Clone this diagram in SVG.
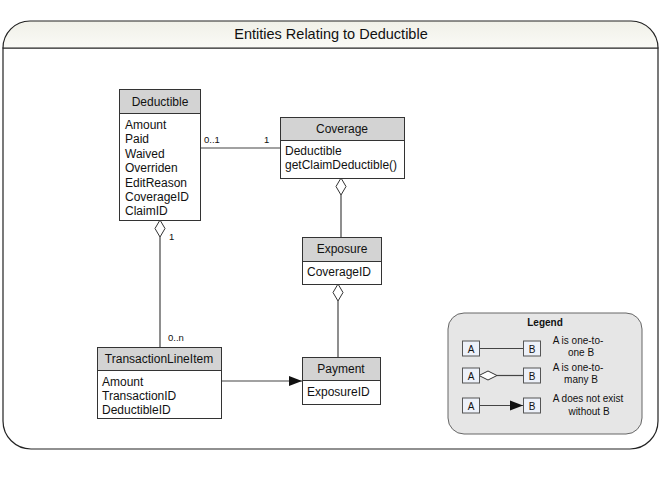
<svg xmlns="http://www.w3.org/2000/svg" width="662" height="504" viewBox="0 0 662 504">
<style>
text{font-family:"Liberation Sans",Arial,sans-serif;fill:#111}
.t{font-size:12px}
.h{font-size:12px;text-anchor:middle}
.m{font-size:9.5px}
.box{fill:#fff;stroke:#333;stroke-width:1}
.hd{fill:#d3d3d3;stroke:#333;stroke-width:1}
.ln{stroke:#444;stroke-width:1.2;fill:none}
.dia{fill:#fff;stroke:#333;stroke-width:1}
.lg{font-size:10px;text-anchor:middle}
.lb{fill:#edf1f9;stroke:#555;stroke-width:1}
</style>
<defs>
<linearGradient id="tg" x1="0" y1="0" x2="0" y2="1">
<stop offset="0" stop-color="#f0f0e8"/>
<stop offset="1" stop-color="#fafaf6"/>
</linearGradient>
<marker id="arr" markerWidth="14" markerHeight="12" refX="13" refY="6" orient="auto" markerUnits="userSpaceOnUse">
<path d="M0,1 L13,6 L0,11 Z" fill="#111"/>
</marker>
</defs>
<rect width="662" height="504" fill="#fff"/>
<g id="frame">
<path d="M3,48 V421 A28,28 0 0 0 31,449 H630 A28,28 0 0 0 658,421 V48 Z" fill="#fff" stroke="#222" stroke-width="1.2"/>
<path d="M3,48 A27,27 0 0 1 30,21 H631 A27,27 0 0 1 658,48 Z" fill="url(#tg)" stroke="#222" stroke-width="1.2"/>
<text x="331" y="39" style="font-size:14.5px;text-anchor:middle">Entities Relating to Deductible</text>
</g>
<g id="connectors">
<line class="ln" x1="200" y1="148" x2="280" y2="148"/>
<text class="m" x="204" y="143">0..1</text>
<text class="m" x="264" y="143">1</text>
<line class="ln" x1="160" y1="237" x2="160" y2="347"/>
<path class="dia" d="M160,220 L165,228.5 L160,237 L155,228.5 Z"/>
<text class="m" x="169" y="240">1</text>
<text class="m" x="168" y="341">0..n</text>
<line class="ln" x1="341" y1="195" x2="341" y2="237"/>
<path class="dia" d="M341,178 L346,186.5 L341,195 L336,186.5 Z"/>
<line class="ln" x1="338" y1="301" x2="338" y2="357"/>
<path class="dia" d="M338,284 L343,292.5 L338,301 L333,292.5 Z"/>
<line class="ln" x1="221" y1="381" x2="302" y2="381" marker-end="url(#arr)"/>
</g>
<g id="deductible">
<rect class="box" x="119.5" y="89.5" width="81" height="131"/>
<rect class="hd" x="119.5" y="89.5" width="81" height="24"/>
<text class="h" x="160" y="106">Deductible</text>
<text class="t" x="125" y="129">Amount</text>
<text class="t" x="125" y="143.4">Paid</text>
<text class="t" x="125" y="157.8">Waived</text>
<text class="t" x="125" y="172.2">Overriden</text>
<text class="t" x="125" y="186.6">EditReason</text>
<text class="t" x="125" y="201">CoverageID</text>
<text class="t" x="125" y="215.4">ClaimID</text>
</g>
<g id="coverage">
<rect class="box" x="280.5" y="117.5" width="124" height="61"/>
<rect class="hd" x="280.5" y="117.5" width="124" height="23"/>
<text class="h" x="342" y="133">Coverage</text>
<text class="t" x="285" y="155">Deductible</text>
<text class="t" x="285" y="169">getClaimDeductible()</text>
</g>
<g id="exposure">
<rect class="box" x="302.5" y="237.5" width="79" height="47"/>
<rect class="hd" x="302.5" y="237.5" width="79" height="24"/>
<text class="h" x="342" y="253">Exposure</text>
<text class="t" x="307" y="276">CoverageID</text>
</g>
<g id="payment">
<rect class="box" x="302.5" y="357.5" width="78" height="47"/>
<rect class="hd" x="302.5" y="357.5" width="78" height="23"/>
<text class="h" x="341" y="373">Payment</text>
<text class="t" x="307" y="396">ExposureID</text>
</g>
<g id="transactionlineitem">
<rect class="box" x="97.5" y="347.5" width="124" height="71"/>
<rect class="hd" x="97.5" y="347.5" width="124" height="23"/>
<text class="h" x="159" y="363">TransactionLineItem</text>
<text class="t" x="102" y="386">Amount</text>
<text class="t" x="102" y="400">TransactionID</text>
<text class="t" x="102" y="414">DeductibleID</text>
</g>
<g id="legend">
<rect x="448" y="313" width="194" height="121" rx="16" ry="16" fill="#e6e6e6" stroke="#666" stroke-width="1"/>
<text x="545" y="326" style="font-size:10px;font-weight:bold;text-anchor:middle">Legend</text>
<line class="ln" x1="479" y1="348.5" x2="523" y2="348.5"/>
<path class="dia" d="M479,375.5 L488,371 L497,375.5 L488,380 Z"/>
<line class="ln" x1="497" y1="375.5" x2="523" y2="375.5"/>
<line class="ln" x1="479" y1="405.5" x2="523" y2="405.5" marker-end="url(#arr)"/>
<rect class="lb" x="462.5" y="341" width="17" height="15"/>
<text class="lg" x="471" y="352.5">A</text>
<rect class="lb" x="523.5" y="341" width="17" height="15"/>
<text class="lg" x="532" y="352.5">B</text>
<rect class="lb" x="462.5" y="368" width="17" height="15"/>
<text class="lg" x="471" y="379.5">A</text>
<rect class="lb" x="523.5" y="368" width="17" height="15"/>
<text class="lg" x="532" y="379.5">B</text>
<rect class="lb" x="462.5" y="398" width="17" height="15"/>
<text class="lg" x="471" y="409.5">A</text>
<rect class="lb" x="523.5" y="398" width="17" height="15"/>
<text class="lg" x="532" y="409.5">B</text>
<text class="lg" x="578" y="344">A is one-to-</text>
<text class="lg" x="581" y="356">one B</text>
<text class="lg" x="578" y="371">A is one-to-</text>
<text class="lg" x="581" y="383">many B</text>
<text class="lg" x="588" y="402">A does not exist</text>
<text class="lg" x="589" y="415">without B</text>
</g>
</svg>
